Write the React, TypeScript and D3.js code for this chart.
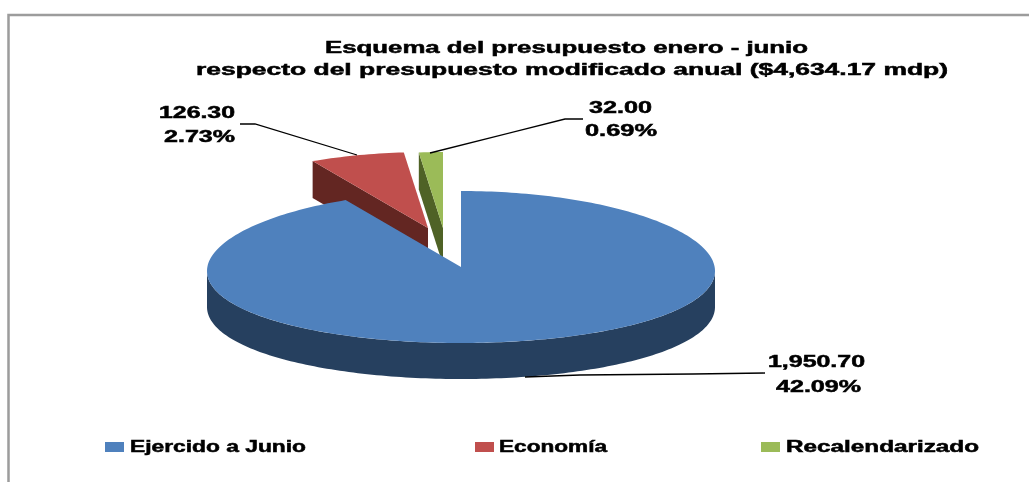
import React from "react";
import * as d3 from "d3";

// data
const categories = ["Ejercido a Junio", "Economía", "Recalendarizado"];
const values = [1950.7, 126.3, 32.0];
const annualBudget = 4634.17;
const titleLines = [
  "Esquema del presupuesto enero - junio",
  "respecto del presupuesto modificado anual ($4,634.17 mdp)",
];

// styles per slice
const topColors = ["#4F81BD", "#C0504D", "#9BBB59"];
const wallColors = ["#27405F", "#632523", "#4F6228"];
// pull-out of each slice, px
const offsets = [[0, 0], [-33, -39], [-18, -39]];

// layout of the text, [x, y, width]
const titlePos = [[325, 53, 483], [196, 75, 752]];
const valuePos = [[768, 367, 97], [159, 118, 76], [589, 113, 63]];
const pctPos = [[776, 392, 85], [164, 142, 71], [585, 136, 72]];
const leaders = [
  [[765, 373], [693, 374], [580, 375], [525, 377]],
  [[240, 124], [255, 124], [357, 155]],
  [[583, 119], [565, 119], [430, 153]],
];
const legendSwatch = [105, 475, 761];
const legendText = [[130, 176], [499, 108], [786, 193]];

const cx = 461;
const cy = 267;
const rx = 254;
const ry = 76;
const depth = 37;
// the 3D view drops the widest point of the ellipse a little below its centre
const sag = 4;

const xScale = d3.scaleLinear().domain([-1, 1]).range([cx - rx, cx + rx]);
const yScale = d3.scaleLinear().domain([-1, 1]).range([cy + ry, cy - ry]);

const pieData = d3.pie<number>().sort(null).startAngle(0).endAngle(2 * Math.PI)(values);
const line = d3.line();
const fmtValue = d3.format(",.2f");
const fmtPct = d3.format(".2%");

function rim(a0: number, a1: number, dy = 0): [number, number][] {
  const n = Math.max(2, Math.ceil((a1 - a0) / 0.02));
  return d3.range(n + 1).map((i) => {
    const a = a0 + ((a1 - a0) * i) / n;
    const s = Math.sin(a);
    return [xScale(s), yScale(Math.cos(a)) + sag * s * s + dy] as [number, number];
  });
}

function topPath(a0: number, a1: number) {
  return line([[xScale(0), yScale(0)], ...rim(a0, a1)]) + "Z";
}

// front wall, only the part of the rim facing the viewer
function outerWall(a0: number, a1: number) {
  const from = Math.max(a0, Math.PI / 2);
  const to = Math.min(a1, 1.5 * Math.PI);
  if (to <= from) return "";
  return line([...rim(from, to), ...rim(from, to, depth - 1).reverse()]) + "Z";
}

// the cut face on the start side of an exploded slice
function cutFace(a: number) {
  const [p] = rim(a, a + 0.001);
  const c: [number, number] = [xScale(0), yScale(0)];
  return line([p, c, [c[0], c[1] + depth], [p[0], p[1] + depth]]) + "Z";
}

export default function App() {
  const textStyle = {
    fontFamily: "'Liberation Sans', Arial, sans-serif",
    fontWeight: 700,
    fontSize: 16,
    fill: "#000",
    stroke: "#000",
    strokeWidth: 0.5,
  };
  // the small slices sit behind the big one
  const order = [1, 2, 0];

  return (
    <svg
      width={1029}
      height={482}
      style={{ position: "absolute", left: 0, top: 0, background: "#fff" }}
    >
      <defs>
        <filter id="soft" filterUnits="userSpaceOnUse" x="0" y="0" width="1029" height="482">
          <feGaussianBlur stdDeviation="0.6" />
        </filter>
      </defs>
      <g filter="url(#soft)">
        <path d="M8.5,482V15H1029" fill="none" stroke="#9C9C9C" strokeWidth={2.5} />

        {order.map((i) => {
          const d = pieData[i];
          return (
            <g key={i} transform={`translate(${offsets[i][0]},${offsets[i][1]})`}>
              {i > 0 && <path d={cutFace(d.startAngle)} fill={wallColors[i]} />}
              <path d={outerWall(d.startAngle, d.endAngle)} fill={wallColors[i]} />
              <path d={topPath(d.startAngle, d.endAngle)} fill={topColors[i]} />
            </g>
          );
        })}

        {leaders.map((pts, i) => (
          <path key={i} d={line(pts as [number, number][]) ?? ""} fill="none" stroke="#000" strokeWidth={1.3} />
        ))}

        {titleLines.map((t, i) => (
          <text key={i} x={titlePos[i][0]} y={titlePos[i][1]} textLength={titlePos[i][2]} lengthAdjust="spacingAndGlyphs" style={textStyle}>
            {t}
          </text>
        ))}

        {values.map((v, i) => (
          <g key={i}>
            <text x={valuePos[i][0]} y={valuePos[i][1]} textLength={valuePos[i][2]} lengthAdjust="spacingAndGlyphs" style={textStyle}>
              {fmtValue(v)}
            </text>
            <text x={pctPos[i][0]} y={pctPos[i][1]} textLength={pctPos[i][2]} lengthAdjust="spacingAndGlyphs" style={textStyle}>
              {fmtPct(v / annualBudget)}
            </text>
          </g>
        ))}

        {categories.map((c, i) => (
          <g key={c}>
            <rect x={legendSwatch[i]} y={442} width={19} height={10} fill={topColors[i]} />
            <text x={legendText[i][0]} y={452} textLength={legendText[i][1]} lengthAdjust="spacingAndGlyphs" style={textStyle}>
              {c}
            </text>
          </g>
        ))}
      </g>
    </svg>
  );
}
